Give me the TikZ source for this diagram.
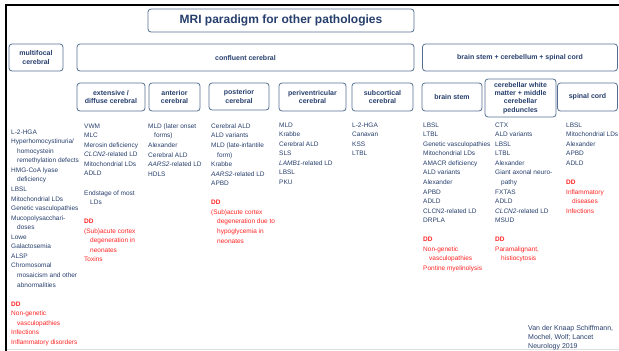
\documentclass[tikz,border=0pt]{standalone}
\usepackage{fontspec}
\setmainfont{Liberation Sans}
\usetikzlibrary{positioning}
\definecolor{boxline}{RGB}{84,110,145}
\definecolor{navy}{RGB}{38,62,108}
\definecolor{ddred}{RGB}{255,35,35}
\newcommand{\ind}{\hspace*{6pt}}
\newcommand{\rd}[1]{\textcolor{ddred}{#1}}
\tikzset{
  catbox/.style={draw=boxline, line width=0.8pt, rounded corners=3pt, text=navy,
    font=\fontsize{7}{8.3}\selectfont\bfseries, align=center, inner sep=1pt},
  dxlist/.style={anchor=north west, inner sep=0pt, text=navy,
    font=\fontsize{6.5}{9.55}\selectfont, align=left},
}
\begin{document}
\begin{tikzpicture}[x=1pt,y=-1pt]
\useasboundingbox (0,0) rectangle (619,351);
% frame
\draw[line width=2pt] (5,5) -- (619,5);
\draw[line width=2pt] (6,4) -- (6,351);
\draw[black!12, line width=0.8pt] (7,349.5) -- (619,349.5);

% title and category boxes
\node[catbox, minimum width=266pt, minimum height=23pt, font=\fontsize{12}{14}\selectfont\bfseries] (title) at (281,20.5) {MRI paradigm for other pathologies};
\node[catbox, minimum width=54pt, minimum height=27pt] (multi) at (36,57.5) {multifocal\\cerebral};
\node[catbox, minimum width=337pt, minimum height=27pt] (confl) at (245.5,57.5) {confluent cerebral};
\node[catbox, minimum width=195pt, minimum height=27pt] (bscs) at (520,57.5) {brain stem + cerebellum + spinal cord};
\node[catbox, minimum width=68pt, minimum height=28pt] (ext) at (111,97) {extensive /\\diffuse cerebral};
\node[catbox, minimum width=51pt, minimum height=28pt] (ant) at (174.5,97) {anterior\\cerebral};
\node[catbox, minimum width=60pt, minimum height=27pt] (post) at (239,96.5) {posterior\\cerebral};
\node[catbox, minimum width=67pt, minimum height=28pt] (peri) at (312.5,97) {periventricular\\cerebral};
\node[catbox, minimum width=61pt, minimum height=28pt] (subc) at (382.5,97) {subcortical\\cerebral};
\node[catbox, minimum width=60pt, minimum height=28pt] (bstem) at (452,97) {brain stem};
\node[catbox, minimum width=71pt, minimum height=38pt] (cwm) at (520.5,98) {cerebellar white\\matter + middle\\cerebellar\\peduncles};
\node[catbox, minimum width=60pt, minimum height=28pt] (spin) at (587.5,97) {spinal cord};

% disease lists
\node[dxlist] (lmulti) at (11,129.5) {L-2-HGA\\
Hyperhomocystinuria/\\
\ind homocystein\\
\ind remethylation defects\\
HMG-CoA lyase\\
\ind deficiency\\
LBSL\\
Mitochondrial LDs\\
Genetic vasculopathies\\
Mucopolysacchari-\\
\ind doses\\
Lowe\\
Galactosemia\\
ALSP\\
Chromosomal\\
\ind mosaicism and other\\
\ind abnormalities\\[9.55pt]
\rd{\textbf{DD}}\\
\rd{Non-genetic}\\
\rd{\ind vasculopathies}\\
\rd{Infections}\\
\rd{Inflammatory disorders}};

\node[dxlist] (lext) at (84,123.5) {VWM\\
MLC\\
Merosin deficiency\\
\textit{CLCN2}-related LD\\
Mitochondrial LDs\\
ADLD\\[9.55pt]
Endstage of most\\
\ind LDs\\[9.55pt]
\rd{\textbf{DD}}\\
\rd{(Sub)acute cortex}\\
\rd{\ind degeneration in}\\
\rd{\ind neonates}\\
\rd{Toxins}};

\node[dxlist] (lant) at (148,123.5) {MLD (later onset\\
\ind forms)\\
Alexander\\
Cerebral ALD\\
\textit{AARS2}-related LD\\
HDLS};

\node[dxlist] (lpost) at (211,123.5) {Cerebral ALD\\
ALD variants\\
MLD (late-infantile\\
\ind form)\\
Krabbe\\
\textit{AARS2}-related LD\\
APBD\\[9.55pt]
\rd{\textbf{DD}}\\
\rd{(Sub)acute cortex}\\
\rd{\ind degeneration due to}\\
\rd{\ind hypoglycemia in}\\
\rd{\ind neonates}};

\node[dxlist] (lperi) at (279,122.5) {MLD\\
Krabbe\\
Cerebral ALD\\
SLS\\
\textit{LAMB1}-related LD\\
LBSL\\
PKU};

\node[dxlist] (lsubc) at (352,122.5) {L-2-HGA\\
Canavan\\
KSS\\
LTBL};

\node[dxlist] (lbstem) at (423,122.5) {LBSL\\
LTBL\\
Genetic vasculopathies\\
Mitochondrial LDs\\
AMACR deficiency\\
ALD variants\\
Alexander\\
APBD\\
ADLD\\
CLCN2-related LD\\
DRPLA\\[9.55pt]
\rd{\textbf{DD}}\\
\rd{Non-genetic}\\
\rd{\ind vasculopathies}\\
\rd{Pontine myelinolysis}};

\node[dxlist] (lcwm) at (495,122.5) {CTX\\
ALD variants\\
LBSL\\
LTBL\\
Alexander\\
Giant axonal neuro-\\
\ind pathy\\
FXTAS\\
ADLD\\
\textit{CLCN2}-related LD\\
MSUD\\[9.55pt]
\rd{\textbf{DD}}\\
\rd{Paramalignant,}\\
\rd{\ind histiocytosis}};

\node[dxlist] (lspin) at (566,122.5) {LBSL\\
Mitochondrial LDs\\
Alexander\\
APBD\\
ADLD\\[9.55pt]
\rd{\textbf{DD}}\\
\rd{Inflammatory}\\
\rd{\ind diseases}\\
\rd{Infections}};

% reference
\node[dxlist, font=\fontsize{7}{9}\selectfont] (cite) at (528,325) {Van der Knaap Schiffmann,\\
Mochel, Wolf; Lancet\\
Neurology 2019};
\end{tikzpicture}
\end{document}
